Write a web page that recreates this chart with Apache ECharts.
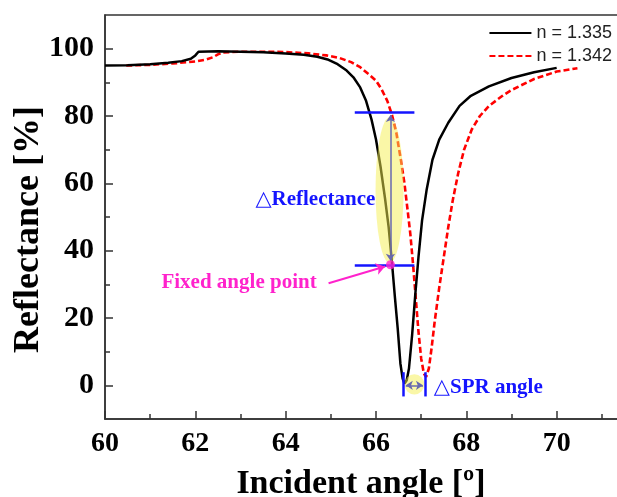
<!DOCTYPE html>
<html>
<head>
<meta charset="UTF-8">
<title></title>
<script src="https://cdn.jsdelivr.net/npm/echarts@6/dist/echarts.min.js"></script>
</head>
<body style="margin:0">
<div id="container" style="width:617px;height:497px"></div>
<script type="text/javascript">
// curves: [angle, reflectance]
var curve1335 = [[60,95],[60.5,95.1],[61,95.4],[61.4,95.8],[61.7,96.3],[61.9,97.0],[62.0,98.0],[62.07,99.1],[62.5,99.2],[63,99.1],[63.5,98.9],[64,98.6],[64.4,98.2],[64.7,97.6],[64.95,96.7],[65.15,95.4],[65.35,93.5],[65.5,91.5],[65.65,88.5],[65.78,84.5],[65.9,79],[66.0,73],[66.1,65],[66.2,55.5],[66.28,47],[66.35,37],[66.42,26],[66.48,17],[66.54,6.5],[66.59,2],[66.63,0.5],[66.68,1.5],[66.73,5],[66.8,15],[66.87,27],[66.94,38],[67.02,49],[67.12,58],[67.25,67],[67.4,73],[67.6,78],[67.85,83],[68.1,86],[68.5,88.8],[69,91.3],[69.5,93],[70,94.3]];
var curve1342 = [[60.47,95],[61,95.2],[61.5,95.6],[62,96.2],[62.25,96.8],[62.4,97.5],[62.5,98.3],[62.6,98.9],[63,99.1],[63.5,99.1],[64,99],[64.5,98.6],[64.9,98],[65.2,97.2],[65.45,96],[65.65,94.5],[65.85,92.3],[66.0,90.5],[66.12,88],[66.25,84.5],[66.35,80.5],[66.45,75],[66.55,67],[66.63,60],[66.7,52],[66.76,45],[66.82,36],[66.88,26],[66.94,16],[67.0,8],[67.06,3.5],[67.11,2.5],[67.17,5],[67.23,11],[67.3,19],[67.4,29],[67.5,38],[67.6,47],[67.7,55],[67.82,63],[67.95,70],[68.12,76],[68.3,80],[68.5,83],[68.8,86],[69,87.7],[69.5,91],[70,93.2],[70.46,94.2]];
var seriesNames = ['n = 1.335', 'n = 1.342'];
var yMajor = [0, 20, 40, 60, 80, 100];
var yMinor = [10, 30, 50, 70, 90];

// annotations, in data units
var fixedPoint = [[66.32, 35.8]];
var highlights = [[66.3, 58, 0.31, 21.6], [66.85, 0.3, 0.22, 3.0]]; // cx, cy, rx, ry
var blueBars = [[[65.53, 81.2], [66.85, 81.2]], [[65.53, 35.8], [66.85, 35.8]], [[66.6, -3.3], [66.6, 3.9]], [[67.1, -3.3], [67.1, 3.9]]];
var slateArrows = [[[66.32, 37], [66.32, 80.3]], [[66.66, 0], [67.04, 0]]];
var pinkArrow = [[64.95, 30.3], [66.2, 35.3]];
var noteText = ['\u25B3Reflectance', 'Fixed angle point', '\u25B3SPR angle'];
var notePos = [[63.33, 55.1], [61.25, 30.6], [67.28, -0.6]];
var noteColor = ['#1414ff', '#ff22cc', '#1414ff'];

var serif = '"Liberation Serif", "DejaVu Serif", serif';
var dom = document.getElementById('container');
var myChart = echarts.init(dom);

var markData = [];
blueBars.forEach(function (s) {
    markData.push([{ coord: s[0], symbol: 'none', lineStyle: { color: '#1414ff', width: 2.5, type: 'solid' } }, { coord: s[1], symbol: 'none' }]);
});
slateArrows.forEach(function (s) {
    markData.push([{ coord: s[0], symbol: 'arrow', symbolSize: 7, lineStyle: { color: '#6868b0', width: 1.5, type: 'solid' } }, { coord: s[1], symbol: 'arrow', symbolSize: 7 }]);
});
markData.push([{ coord: pinkArrow[0], symbol: 'none', lineStyle: { color: '#ff22cc', width: 2, type: 'solid' } }, { coord: pinkArrow[1], symbol: 'arrow', symbolSize: 9 }]);

var option = {
    animation: false,
    grid: { left: 105, top: 15, right: -30, bottom: 78, outerBoundsMode: 'none', containLabel: false, show: true, borderColor: '#333', borderWidth: 1.5 },
    legend: {
        data: seriesNames,
        orient: 'vertical',
        right: 0,
        top: 19,
        itemWidth: 42,
        itemHeight: 14,
        itemGap: 5,
        itemStyle: { opacity: 0 },
        textStyle: { fontSize: 18, fontFamily: '"Liberation Sans", Arial, sans-serif', color: '#222' }
    },
    xAxis: {
        type: 'value',
        min: 60,
        max: 72,
        interval: 2,
        name: 'Incident angle [\u00BA]',
        nameLocation: 'middle',
        nameGap: 48,
        nameMoveOverlap: false,
        nameTextStyle: { fontSize: 34, fontWeight: 'bold', fontFamily: serif, color: '#000', padding: [0, 30, 0, 0] },
        axisLine: { onZero: false, lineStyle: { color: '#333', width: 1.5 } },
        axisTick: { inside: true, length: 8, lineStyle: { color: '#333', width: 1.5 } },
        minorTick: { show: true, splitNumber: 2, length: 5, lineStyle: { color: '#333', width: 1.5 } },
        axisLabel: { margin: 11, fontSize: 28, fontWeight: 'bold', fontFamily: serif, color: '#000' },
        splitLine: { show: false }
    },
    yAxis: [{
        type: 'value',
        min: -10,
        max: 110,
        name: 'Reflectance [%]',
        nameLocation: 'middle',
        nameGap: 58,
        nameMoveOverlap: false,
        nameTextStyle: { fontSize: 36, fontWeight: 'bold', fontFamily: serif, color: '#000', padding: [0, 25, 0, 0] },
        axisLine: { show: true, onZero: false, lineStyle: { color: '#333', width: 1.5 } },
        axisTick: { inside: true, length: 8, customValues: yMajor, lineStyle: { color: '#333', width: 1.5 } },
        axisLabel: { margin: 11, customValues: yMajor, fontSize: 30, fontWeight: 'bold', fontFamily: serif, color: '#000' },
        splitLine: { show: false }
    }, {
        type: 'value',
        position: 'left',
        min: -10,
        max: 110,
        axisLine: { show: false, onZero: false },
        axisTick: { show: true, inside: true, length: 5, customValues: yMinor, lineStyle: { color: '#333', width: 1.5 } },
        axisLabel: { show: false },
        splitLine: { show: false }
    }],
    series: [{
        name: seriesNames[0],
        type: 'line',
        data: curve1335,
        symbol: 'none',
        z: 3,
        lineStyle: { color: '#000', width: 2.5 },
        itemStyle: { color: '#000' }
    }, {
        name: seriesNames[1],
        type: 'line',
        data: curve1342,
        symbol: 'none',
        z: 2,
        lineStyle: { color: '#ff0000', width: 2.6, type: [6, 3] },
        itemStyle: { color: '#ff0000' }
    }, {
        type: 'custom',
        data: highlights,
        z: 4,
        silent: true,
        renderItem: function (params, api) {
            var c = api.coord([api.value(0), api.value(1)]);
            var s = api.size([api.value(2), api.value(3)]);
            return {
                type: 'circle', shape: { cx: 0, cy: 0, r: 1 },
                x: c[0], y: c[1], scaleX: s[0], scaleY: s[1],
                style: { fill: 'rgba(246,240,80,0.5)' }
            };
        }
    }, {
        type: 'line',
        data: [],
        z: 5,
        silent: true,
        markLine: { silent: true, animation: false, label: { show: false }, data: markData }
    }, {
        type: 'scatter',
        data: fixedPoint,
        symbolSize: 9,
        z: 6,
        itemStyle: { color: '#ff22cc' }
    }, {
        type: 'custom',
        data: notePos.map(function (p, i) { return [p[0], p[1], i]; }),
        z: 6,
        silent: true,
        renderItem: function (params, api) {
            var c = api.coord([api.value(0), api.value(1)]);
            var i = api.value(2);
            return {
                type: 'text', x: c[0], y: c[1],
                style: { text: noteText[i], fill: noteColor[i], font: 'bold 21px ' + serif, align: 'left', verticalAlign: 'middle' }
            };
        }
    }]
};

myChart.setOption(option);
</script>
</body>
</html>
